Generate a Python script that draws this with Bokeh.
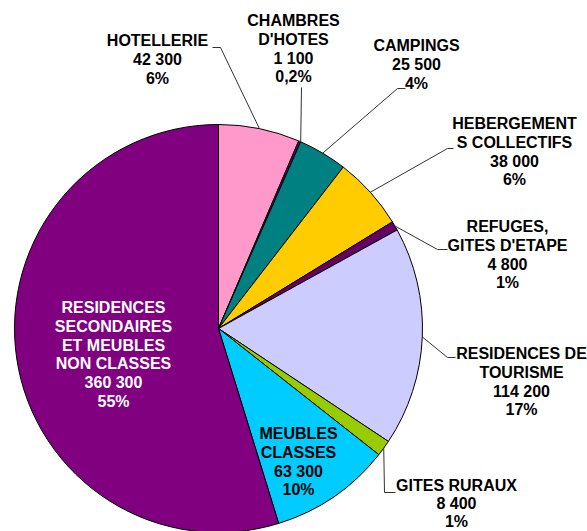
import math
from bokeh.plotting import figure
from bokeh.models import Range1d, ColumnDataSource
from bokeh.core.properties import value
from bokeh.embed import file_html
from bokeh.resources import INLINE

# ---- data ----
categories = ["HOTELLERIE", "CHAMBRES\nD'HOTES", "CAMPINGS", "HEBERGEMENT\nS COLLECTIFS",
              "REFUGES,\nGITES D'ETAPE", "RESIDENCES DE\nTOURISME", "GITES RURAUX",
              "MEUBLES\nCLASSES", "RESIDENCES\nSECONDAIRES\nET MEUBLES\nNON CLASSES"]
values = [42300, 1100, 25500, 38000, 4800, 114200, 8400, 63300, 360300]
value_labels = ["42 300", "1 100", "25 500", "38 000", "4 800", "114 200", "8 400", "63 300", "360 300"]
pct_labels = ["6%", "0,2%", "4%", "6%", "1%", "17%", "1%", "10%", "55%"]
colors = ["#FF99CC", "#660066", "#008080", "#FFCC00", "#660066", "#CCCCFF", "#99CC00", "#00CCFF", "#800080"]

# ---- layout (pixel coords, y downward) ----
W, H = 587, 531
CX, CY, R = 218, 328, 204
label_anchor = [(157, 40), (293, 20), (416, 45), (514, 123), (507, 226),
                (521, 353), (456, 485), (298, 433), (113, 307)]
label_line_h = [18.8, 18.8, 18.8, 18.8, 18.8, 18.8, 18.0, 18.8, 18.8]
label_color = ["#000000"] * 8 + ["#FFFFFF"]
leader_elbows = [[(212, 47), (220, 47)], [(301, 87)], [(405, 88), (397, 88)],
                 [(453, 148), (447, 148)], [(447, 249), (437, 249)], [(455, 357), (447, 357)],
                 [(395, 492), (384, 492)], None, None]

def fy(y):
    return H - y

p = figure(width=W, height=H, x_range=Range1d(0, W), y_range=Range1d(0, H),
           output_backend="svg", toolbar_location=None, min_border=0)
p.axis.visible = False
p.grid.visible = False
p.outline_line_color = None
p.background_fill_color = "white"
p.border_fill_color = "white"

total = float(sum(values))
starts, ends, mids = [], [], []
c = 0.0
for v in values:
    c0 = c / total
    c += v
    c1 = c / total
    starts.append(math.pi / 2 - 2 * math.pi * c0)
    ends.append(math.pi / 2 - 2 * math.pi * c1)
    mids.append(2 * math.pi * (c0 + c1) / 2)

src = ColumnDataSource(dict(start=starts, end=ends, color=colors))
p.wedge(x=CX, y=fy(CY), radius=R, start_angle="start", end_angle="end",
        direction="clock", fill_color="color", line_color="black", line_width=1, source=src)

# leader lines
for i, el in enumerate(leader_elbows):
    if el is None:
        continue
    ex = CX + R * math.sin(mids[i])
    ey = CY - R * math.cos(mids[i])
    if i == 1:
        ex += 1
    pts = el + [(ex, ey)]
    p.line([q[0] for q in pts], [fy(q[1]) for q in pts], line_color="#333333", line_width=1)

# labels
xs, ys, ts, cs = [], [], [], []
for i, cat in enumerate(categories):
    lines = cat.split("\n") + [value_labels[i], pct_labels[i]]
    ax, ay = label_anchor[i]
    for k, t in enumerate(lines):
        xs.append(ax)
        ys.append(fy(ay + k * label_line_h[i]))
        ts.append(t)
        cs.append(label_color[i])

tsrc = ColumnDataSource(dict(x=xs, y=ys, text=ts, color=cs))
p.text(x="x", y="y", text="text", text_color="color", source=tsrc,
       text_font=value("Liberation Sans"), text_font_style="bold",
       text_font_size="16px", text_align="center", text_baseline="middle")

open("out.html", "w").write(file_html(p, INLINE))
